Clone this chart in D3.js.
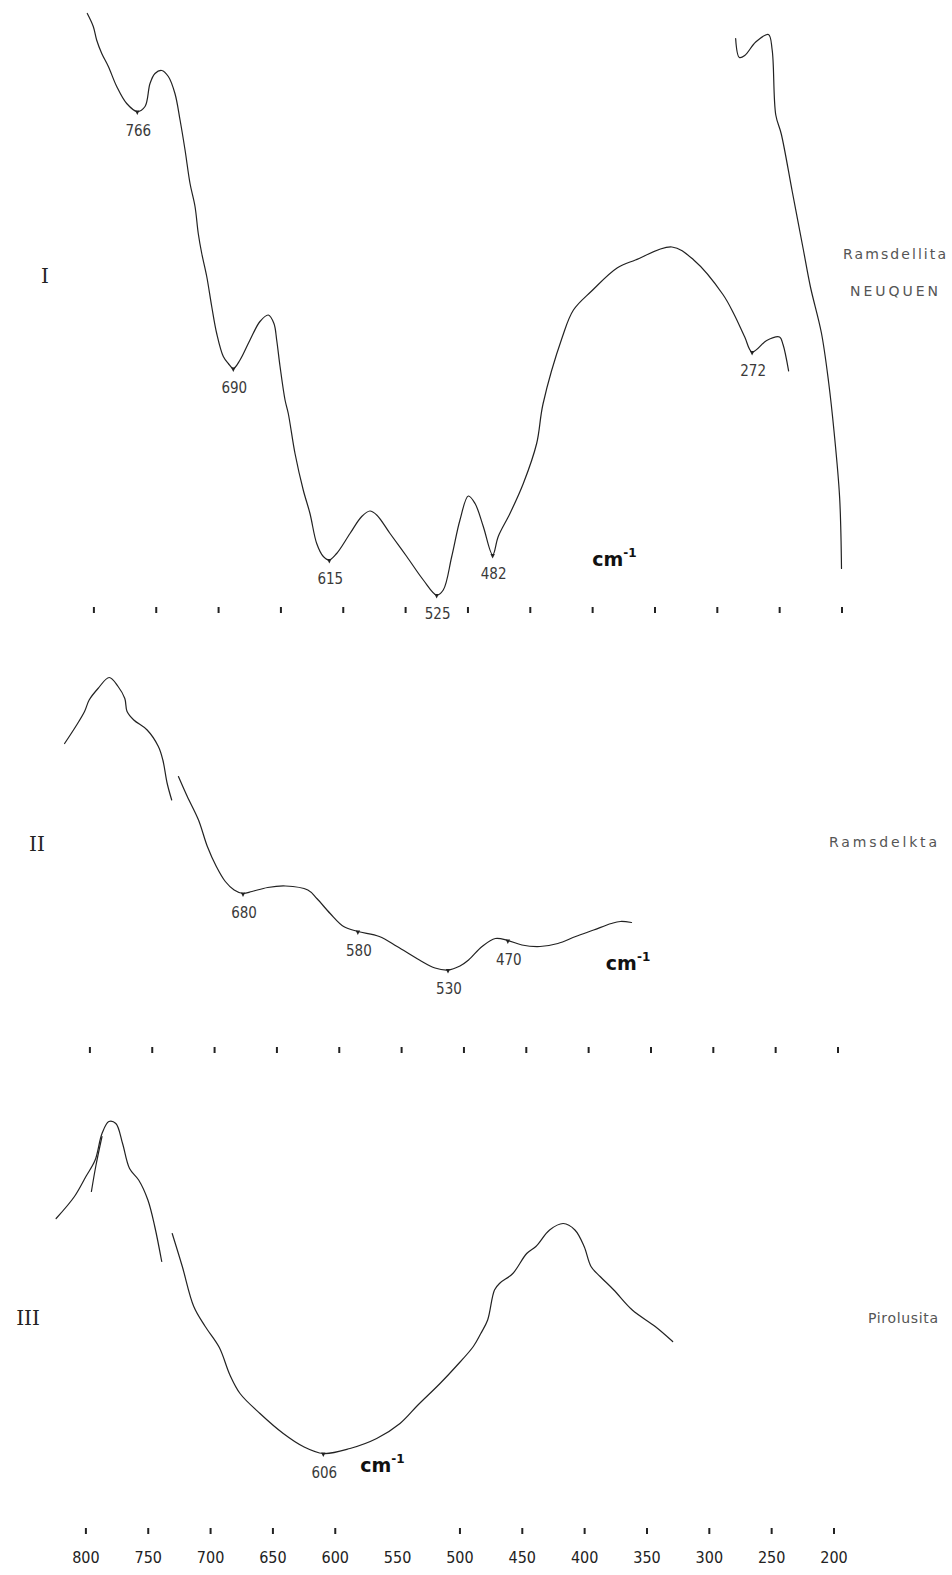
<!DOCTYPE html>
<html lang="es">
<head>
<meta charset="UTF-8">
<title>Espectros IR - Ramsdellita / Pirolusita</title>
<script src="https://cdn.jsdelivr.net/npm/d3@7/dist/d3.min.js"></script>
<style>
    body {
        margin: 0;
        background: #fff;
    }

    .trace {
        fill: none;
        stroke: #222;
        stroke-width: 1.2px;
        stroke-linejoin: round;
        stroke-linecap: round;
    }

    .marker {
        fill: #222;
    }

    .peak {
        font-family: "DejaVu Sans Condensed", "DejaVu Sans", sans-serif;
        font-size: 15px;
        fill: #3a3a3a;
        text-anchor: middle;
    }

    .roman {
        font-family: "DejaVu Serif", "Liberation Serif", serif;
        font-size: 20px;
        fill: #222;
        text-anchor: middle;
    }

    .name {
        font-family: "DejaVu Sans", sans-serif;
        font-size: 14px;
        fill: #555;
    }

    .unit {
        font-family: "DejaVu Sans", sans-serif;
        font-weight: bold;
        font-size: 19px;
        fill: #111;
    }

    .ticks .tick line {
        stroke: #222;
        stroke-width: 2px;
    }

    .ticks .domain {
        display: none;
    }

    .ticks .tick text {
        font-family: "DejaVu Sans Condensed", "DejaVu Sans", sans-serif;
        font-size: 16px;
        fill: #222;
    }
</style>
</head>
<body>
<div id="chart"></div>

<script>
    // wavenumber axis (cm-1)
    const xTicks = [800, 750, 700, 650, 600, 550, 500, 450, 400, 350, 300, 250, 200];
    const xTickLabels = ["800", "750", "700", "650", "600", "550", "500", "450", "400", "350", "300", "250", "200"];

    // spectrum I : [wavenumber, transmittance (arb.)]
    const spectrumI = [
        [804.9, 117.3], [800.1, 114.7], [797.4, 112], [793.3, 109.3], [788.0, 106.7], [781.3, 102.7],
        [773.3, 99.3], [764.8, 97.7], [758.6, 98.7], [754.6, 103.3], [750.6, 105.3], [745.2, 105.9],
        [739.9, 104.7], [734.6, 101.3], [730.5, 96], [726.5, 90], [722.5, 83.3], [718.5, 78.7],
        [715.9, 73.3], [713.1, 69.3], [709.1, 64.7], [705.1, 58.7], [701.1, 53.3], [695.8, 48.7],
        [691.8, 47.3], [687.8, 46.3], [682.4, 48], [674.4, 52], [666.4, 55.7], [659.7, 57],
        [655.2, 55.3], [653.0, 52], [650.3, 46.7], [646.3, 40], [643.7, 37.3], [638.3, 29.3],
        [631.7, 22], [626.3, 17.3], [620.9, 11.3], [615.6, 8.7], [610.8, 8], [604.9, 9.3],
        [594.2, 13.3], [584.8, 16.7], [578.2, 17.8], [572.8, 17], [562.1, 13.3], [548.7, 8.7],
        [535.4, 4], [524.7, 1], [519.4, 2], [512.6, 8.7], [506.0, 16], [499.3, 20.8],
        [493.9, 19.3], [487.3, 14.7], [479.8, 9], [475.3, 12.7], [465.9, 17.3], [455.2, 23.3],
        [444.5, 31.3], [439.4, 39.2], [423.9, 52.6], [415.0, 58], [400.4, 61.8], [380.0, 66.4],
        [365.3, 68], [336.0, 70.6], [318.5, 68], [295.1, 61.1], [286.3, 57.2], [277.6, 52.6],
        [271.7, 49.6], [260.0, 51.9], [249.7, 52.6], [246.9, 51.1], [242.4, 45.8]
    ];
    const spectrumIb = [
        [284.9, 112.3], [281.9, 108.5], [277.6, 108.9], [268.8, 111.6], [258.6, 113.1], [255.6, 110],
        [252.7, 97], [248.3, 93.2], [239.5, 81.7], [230.7, 70.2], [224.9, 62.6], [216.1, 53.4],
        [210.3, 43.5], [205.9, 33.5], [201.5, 20.5], [200.0, 6.3]
    ];
    const peaksI = [[764.8, 97.7], [687.8, 46.3], [610.8, 8], [524.7, 1], [479.8, 9], [271.7, 49.6]];
    const peakTextI = ["766", "690", "615", "525", "482", "272"];

    // spectrum II
    const spectrumII = [
        [823.1, 51.3], [814.2, 54.7], [807.1, 57.7], [803.4, 60], [796.3, 62.3], [787.3, 64.5],
        [780.2, 62.7], [774.8, 60.3], [773.0, 57.7], [767.6, 56], [756.9, 54], [747.9, 50.7],
        [744.3, 48], [740.8, 43.3], [737.2, 40]
    ];
    const spectrumIIb = [
        [731.8, 44.7], [724.7, 40.7], [715.7, 36], [708.6, 30.7], [701.4, 26.7], [694.2, 23.7],
        [687.1, 22], [680.0, 21.3], [672.8, 21.7], [660.2, 22.5], [645.9, 22.8], [628.0, 22],
        [620.8, 20.3], [610.1, 17.3], [599.3, 14.7], [587.9, 13.7], [570.7, 12.7], [556.4, 10.7],
        [538.5, 8], [526.0, 6.4], [515.6, 6], [506.0, 6.8], [499.1, 8], [488.3, 10.7],
        [477.6, 12.3], [467.6, 11.9], [456.3, 11], [441.8, 10.7], [427.5, 11.3], [413.2, 12.7],
        [398.8, 14], [384.6, 15.3], [377.3, 15.7], [368.4, 15.5]
    ];
    const peaksII = [[680.0, 21.3], [587.9, 13.7], [515.6, 6], [467.6, 11.9]];
    const peakTextII = ["680", "580", "530", "470"];

    // spectrum III
    const spectrumIII = [
        [829.9, 56.3], [815.2, 60.7], [806.0, 64.7], [798.6, 68], [793.1, 73.3], [787.6, 75.7],
        [782.0, 75.3], [776.6, 71.3], [771.0, 66.3], [763.7, 64], [756.3, 60], [750.8, 54.7],
        [745.2, 47.7]
    ];
    const spectrumIIIa = [[801.6, 61.7], [797.9, 67], [793.1, 72.7]];
    const spectrumIIIb = [
        [736.8, 53.3], [728.7, 46.7], [719.5, 38.7], [710.3, 34.7], [699.0, 30.5], [690.5, 25],
        [682.4, 21.3], [666.4, 17.3], [647.7, 13.3], [631.7, 10.7], [615.6, 9.3], [594.2, 10.3],
        [572.8, 12.3], [554.1, 15.3], [539.7, 19], [522.0, 23.3], [509.2, 26.7], [495.3, 30.7],
        [489.3, 33.3], [483.8, 36], [478.3, 42], [473.9, 43.4], [463.6, 45.3], [452.5, 49.3],
        [445.1, 50.7], [434.1, 54], [423.1, 55.3], [413.8, 54], [406.4, 50.7], [400.9, 46.7],
        [393.6, 44.7], [382.6, 42], [367.8, 38], [349.4, 34.7], [335.4, 31.7]
    ];
    const peaksIII = [[615.6, 9.3]];
    const peakTextIII = ["606"];

    const width = 952;
    const height = 1575;

    const svg = d3.select("#chart")
        .append("svg")
        .attr("width", width)
        .attr("height", height);

    const x = d3.scaleLinear().domain([800, 200]).range([93.4, 841.5]);

    const panels = [
        {
            y: d3.scaleLinear().domain([0, 120]).range([600, 0]),
            traces: [spectrumI, spectrumIb],
            peaks: peaksI, peakText: peakTextI,
            roman: "I", romanX: 45, romanY: 283,
            names: [["Ramsdellita", 843, 259, 103], ["NEUQUEN", 850, 296, 88]],
            unit: [400, 6.8]
        },
        {
            y: d3.scaleLinear().domain([0, 70]).range([1000, 650]),
            traces: [spectrumII, spectrumIIb],
            peaks: peaksII, peakText: peakTextII,
            roman: "II", romanX: 37, romanY: 851,
            names: [["Ramsdelkta", 829, 847, 108]],
            unit: [389, 6]
        },
        {
            y: d3.scaleLinear().domain([0, 80]).range([1500, 1100]),
            traces: [spectrumIII, spectrumIIIa, spectrumIIIb],
            peaks: peaksIII, peakText: peakTextIII,
            roman: "III", romanX: 28, romanY: 1325,
            names: [["Pirolusita", 868, 1323, 70]],
            unit: [586, 5.6]
        }
    ];

    panels.forEach(p => {
        const g = svg.append("g");
        const line = d3.line()
            .x(d => x(d[0]))
            .y(d => p.y(d[1]))
            .curve(d3.curveCatmullRom.alpha(0.5));

        g.selectAll("path.trace")
            .data(p.traces)
            .enter()
            .append("path")
            .attr("class", "trace")
            .attr("d", line);

        // small arrow heads at the marked bands
        g.selectAll("path.marker")
            .data(p.peaks)
            .enter()
            .append("path")
            .attr("class", "marker")
            .attr("transform", d => `translate(${x(d[0])},${p.y(d[1])})`)
            .attr("d", "M-2.2,-1 L2.2,-1 L0,3.5 Z");

        g.selectAll("text.peak")
            .data(p.peaks)
            .enter()
            .append("text")
            .attr("class", "peak")
            .attr("x", d => x(d[0]) + 1)
            .attr("y", d => p.y(d[1]) + 24)
            .text((d, i) => p.peakText[i]);

        g.append("text")
            .attr("class", "roman")
            .attr("x", p.romanX)
            .attr("y", p.romanY)
            .text(p.roman);

        p.names.forEach(n => {
            g.append("text")
                .attr("class", "name")
                .attr("x", n[1])
                .attr("y", n[2])
                .attr("textLength", n[3])
                .attr("lengthAdjust", "spacing")
                .text(n[0]);
        });

        const u = g.append("text")
            .attr("class", "unit")
            .attr("x", x(p.unit[0]))
            .attr("y", p.y(p.unit[1]));
        u.append("tspan").text("cm");
        u.append("tspan").attr("dy", -9).attr("font-size", 12).text("-1");
    });

    // tick rows (only the bottom one carries numbers)
    const rows = [
        { y: 607, dx: 0, labels: false },
        { y: 1047, dx: -4, labels: false },
        { y: 1528, dx: -8, labels: true }
    ];

    rows.forEach(r => {
        const axis = d3.axisBottom(x)
            .tickValues(xTicks)
            .tickSize(6)
            .tickPadding(18)
            .tickFormat((d, i) => r.labels ? xTickLabels[i] : "");
        const a = svg.append("g")
            .attr("class", "ticks")
            .attr("transform", `translate(${r.dx},${r.y})`)
            .call(axis);
        if (r.labels) {
            // the 550 mark is missing on the lower scale
            a.selectAll(".tick").filter(d => d === 550).select("line").remove();
        }
    });
</script>
</body>
</html>
